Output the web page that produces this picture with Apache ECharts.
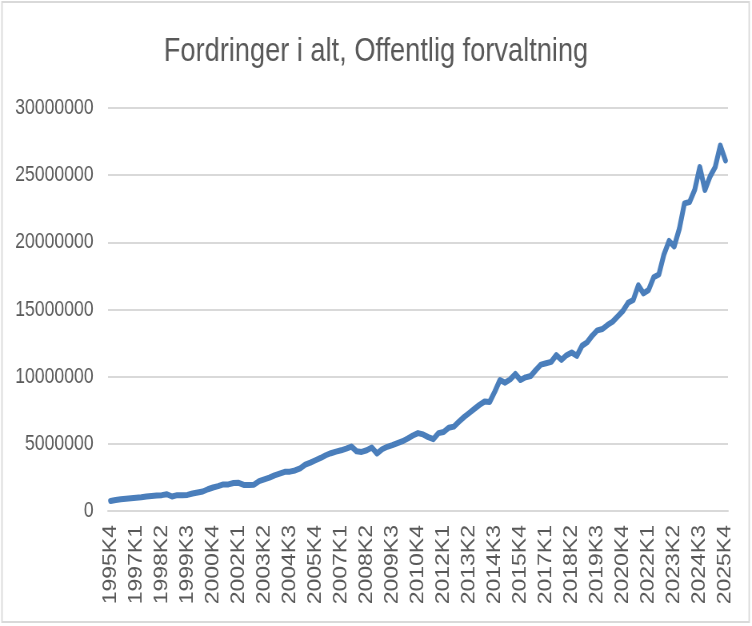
<!DOCTYPE html>
<html>
<head>
<meta charset="utf-8">
<script src="https://cdn.jsdelivr.net/npm/echarts@6/dist/echarts.min.js"></script>
<style>
  html, body { margin: 0; padding: 0; background: #fff; overflow: hidden; }
  /* the reference is squeezed horizontally, so draw wider and squeeze */
  #graphics { width: 940px; height: 626px; transform: scaleX(0.8); transform-origin: 0 0; }
</style>
</head>
<body>
<div id="graphics"></div>
<script>
// quarters 1995K4 .. 2025K4
const quarters = [];
for (let y = 1995; y <= 2025; y++) {
    for (let q = 1; q <= 4; q++) {
        if (y === 1995 && q < 4) continue;
        quarters.push(y + "K" + q);
    }
}

// Fordringer i alt
const fordringer = [
    750000, 820000, 880000, 920000, 950000, 980000, 1020000, 1080000, 1120000, 1150000,
    1180000, 1250000, 1080000, 1180000, 1180000, 1200000, 1300000, 1380000, 1450000, 1620000,
    1750000, 1850000, 1980000, 1980000, 2080000, 2100000, 1940000, 1940000, 1960000, 2220000,
    2350000, 2480000, 2650000, 2780000, 2920000, 2930000, 3020000, 3180000, 3450000, 3600000,
    3780000, 3950000, 4150000, 4300000, 4420000, 4520000, 4650000, 4800000, 4450000, 4400000,
    4520000, 4720000, 4280000, 4600000, 4780000, 4900000, 5050000, 5200000, 5400000, 5620000,
    5800000, 5700000, 5500000, 5350000, 5800000, 5880000, 6200000, 6280000, 6650000, 7000000,
    7300000, 7600000, 7900000, 8150000, 8120000, 8900000, 9750000, 9550000, 9800000, 10200000,
    9750000, 9950000, 10050000, 10500000, 10900000, 11000000, 11100000, 11600000, 11250000, 11600000,
    11800000, 11550000, 12300000, 12550000, 13050000, 13450000, 13550000, 13850000, 14100000, 14500000,
    14900000, 15500000, 15700000, 16800000, 16200000, 16450000, 17400000, 17600000, 19100000, 20100000,
    19700000, 21000000, 22900000, 23000000, 23900000, 25600000, 23900000, 24900000, 25600000, 27200000,
    26100000
];

const yMin = 0;
const yMax = 30000000;
const yStep = 5000000;

var myChart = echarts.init(document.getElementById('graphics'));

var option = {
    animation: false,
    backgroundColor: '#ffffff',
    title: {
        text: 'Fordringer i alt, Offentlig forvaltning',
        left: 'center',
        top: 30,
        textStyle: {
            fontFamily: 'Liberation Sans',
            fontSize: 34,
            fontWeight: 'normal',
            color: '#595959'
        }
    },
    graphic: [{
        type: 'rect',
        shape: { x: 2.5, y: 2, width: 934, height: 620 },
        style: { fill: 'none', stroke: '#d9d9d9', lineWidth: 1.8 },
        silent: true
    }],
    grid: {
        left: 135,
        right: 30,
        top: 108,
        bottom: 115
    },
    xAxis: {
        type: 'category',
        data: quarters,
        boundaryGap: true,
        axisLine: { lineStyle: { color: '#d9d9d9', width: 2 } },
        axisTick: { show: false },
        axisLabel: {
            interval: 4,
            rotate: 90,
            margin: 14,
            fontFamily: 'Liberation Sans',
            fontSize: 23,
            color: '#595959'
        }
    },
    yAxis: {
        type: 'value',
        min: yMin,
        max: yMax,
        interval: yStep,
        axisLine: { show: false },
        axisTick: { show: false },
        splitLine: { lineStyle: { color: '#d9d9d9', width: 2 } },
        axisLabel: {
            margin: 18,
            fontFamily: 'Liberation Sans',
            fontSize: 22,
            color: '#595959',
            formatter: function (v) { return String(v); }
        }
    },
    series: [{
        name: 'Fordringer i alt',
        type: 'line',
        data: fordringer,
        showSymbol: false,
        smooth: false,
        lineStyle: { color: '#4A7EBB', width: 6, join: 'round', cap: 'round' }
    }]
};

myChart.setOption(option);
</script>
</body>
</html>
